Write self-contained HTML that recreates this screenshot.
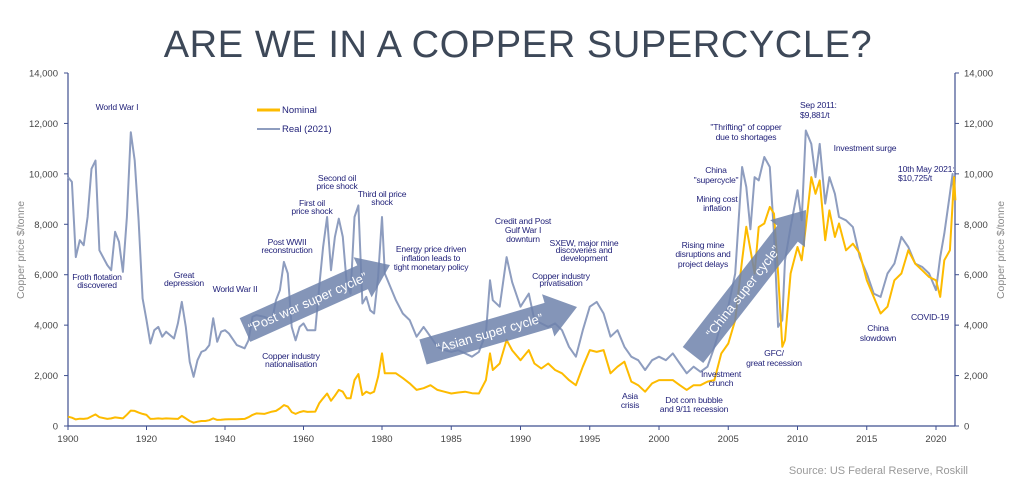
<!DOCTYPE html>
<html><head><meta charset="utf-8"><style>
body{margin:0;background:#fff;}
svg{display:block;font-family:"Liberation Sans",sans-serif;}
.ann{fill:#23237a;font-size:8.6px;text-anchor:middle;letter-spacing:-0.2px;}
.tick{fill:#444;font-size:9.5px;}
</style></head><body>
<svg id="chart" width="1024" height="491" viewBox="0 0 1024 491">
<text x="518" y="57" text-anchor="middle" font-size="38" fill="#3d4858" letter-spacing="0.6">ARE WE IN A COPPER SUPERCYCLE?</text>
<g id="axes"></g>
<g id="series"></g>
<g id="arrows"></g>
<g id="annotations">
<text class="ann" x="117" y="110">World War I</text>
<text class="ann"><tspan x="97" y="280">Froth flotation</tspan><tspan x="97" y="288">discovered</tspan></text>
<text class="ann"><tspan x="184" y="278">Great</tspan><tspan x="184" y="286">depression</tspan></text>
<text class="ann" x="235" y="292">World War II</text>
<text class="ann"><tspan x="287" y="245">Post WWII</tspan><tspan x="287" y="253">reconstruction</tspan></text>
<text class="ann"><tspan x="312" y="206">First  oil</tspan><tspan x="312" y="214">price shock</tspan></text>
<text class="ann"><tspan x="337" y="181">Second oil</tspan><tspan x="337" y="189">price shock</tspan></text>
<text class="ann"><tspan x="382" y="197">Third oil price</tspan><tspan x="382" y="205">shock</tspan></text>
<text class="ann"><tspan x="431" y="252">Energy price driven</tspan><tspan x="431" y="261">inflation leads to</tspan><tspan x="431" y="270">tight monetary policy</tspan></text>
<text class="ann"><tspan x="291" y="359">Copper industry</tspan><tspan x="291" y="367">nationalisation</tspan></text>
<text class="ann"><tspan x="523" y="224">Credit and Post</tspan><tspan x="523" y="233">Gulf War I</tspan><tspan x="523" y="242">downturn</tspan></text>
<text class="ann"><tspan x="584" y="246">SXEW, major mine</tspan><tspan x="584" y="253">discoveries and</tspan><tspan x="584" y="261">development</tspan></text>
<text class="ann"><tspan x="561" y="279">Copper industry</tspan><tspan x="561" y="286">privatisation</tspan></text>
<text class="ann"><tspan x="630" y="399">Asia</tspan><tspan x="630" y="408">crisis</tspan></text>
<text class="ann"><tspan x="694" y="403">Dot com bubble</tspan><tspan x="694" y="412">and 9/11 recession</tspan></text>
<text class="ann"><tspan x="721" y="377">Investment</tspan><tspan x="721" y="386">crunch</tspan></text>
<text class="ann"><tspan x="774" y="356">GFC/</tspan><tspan x="774" y="366">great recession</tspan></text>
<text class="ann"><tspan x="703" y="248">Rising mine</tspan><tspan x="703" y="257">disruptions and</tspan><tspan x="703" y="267">project delays</tspan></text>
<text class="ann"><tspan x="717" y="202">Mining cost</tspan><tspan x="717" y="211">inflation</tspan></text>
<text class="ann"><tspan x="716" y="173">China</tspan><tspan x="716" y="183">"supercycle"</tspan></text>
<text class="ann"><tspan x="746" y="130">"Thrifting" of copper</tspan><tspan x="746" y="140">due to shortages</tspan></text>
<text class="ann" style="text-anchor:start"><tspan x="800" y="108">Sep 2011:</tspan><tspan x="800" y="118">$9,881/t</tspan></text>
<text class="ann" x="865" y="151">Investment surge</text>
<text class="ann" style="text-anchor:start"><tspan x="898" y="172">10th May 2021:</tspan><tspan x="898" y="181">$10,725/t</tspan></text>
<text class="ann"><tspan x="878" y="331">China</tspan><tspan x="878" y="341">slowdown</tspan></text>
<text class="ann" x="930" y="320">COVID-19</text>
</g>
<g>
<line x1="257" y1="110" x2="280" y2="110" stroke="#fdbb00" stroke-width="3"/>
<text x="282" y="113" font-size="9.5" fill="#23237a">Nominal</text>
<line x1="257" y1="129" x2="280" y2="129" stroke="#8e9dbf" stroke-width="2"/>
<text x="282" y="132" font-size="9.5" fill="#23237a">Real (2021)</text>
</g>
<text x="968" y="474" text-anchor="end" font-size="11" fill="#9a9a9a">Source: US Federal Reserve, Roskill</text>
</svg>
<script>
const years=[1900,1901,1902,1903,1904,1905,1906,1907,1908,1910,1911,1912,1913,1914,1915,1916,1917,1918,1919,1920,1921,1922,1923,1924,1925,1927,1928,1929,1930,1931,1932,1933,1934,1935,1936,1937,1938,1939,1940,1941,1943,1945,1946,1947,1948,1950,1952,1953,1954,1955,1956,1957,1958,1959,1960,1961,1963,1964,1965,1966,1967,1968,1969,1970,1971,1972,1973,1974,1975,1976,1977,1978,1979,1980,1980.2,1981,1981.5,1982,1982.5,1983,1983.5,1984,1984.5,1985,1985.5,1986,1986.5,1987,1987.5,1987.8,1988,1988.5,1989,1989.4,1990,1990.6,1991,1991.5,1992,1992.5,1993,1993.5,1994,1994.5,1995,1995.5,1996,1996.5,1997,1997.5,1998,1998.5,1999,1999.5,2000,2000.5,2001,2001.5,2002,2002.5,2003,2003.5,2004,2004.5,2005,2005.5,2006,2006.3,2006.6,2006.9,2007.2,2007.6,2008,2008.3,2008.6,2008.9,2009.1,2009.5,2010,2010.3,2010.6,2011,2011.3,2011.6,2012,2012.3,2012.7,2013,2013.5,2014,2014.5,2015,2015.5,2016,2016.5,2017,2017.5,2018,2018.5,2019,2019.5,2020,2020.3,2020.6,2021,2021.2,2021.3,2021.4];
const realValues=[9870,9680,6700,7370,7170,8290,10200,10530,6970,6380,6180,7700,7300,6110,8290,11650,10530,8160,5060,4200,3270,3800,3930,3540,3740,3470,4070,4920,3930,2550,1950,2610,2940,3010,3210,4270,3340,3740,3800,3670,3210,3080,3400,4330,4400,4330,4200,4990,5390,6510,6050,3930,3400,3930,4070,3800,3800,5520,7100,8290,6180,7500,8220,7500,5650,5250,8290,8750,4860,5120,4590,4460,5910,8290,6050,4990,4460,4200,3540,3930,3540,3140,3010,2940,3010,2880,2750,2940,3670,5780,4990,4730,6700,5700,4730,5250,4200,4070,3930,4070,3800,3140,2750,3800,4730,4920,4460,3540,3800,3140,2750,2610,2220,2610,2750,2610,2880,2480,2090,2350,2150,2350,3140,4070,4730,6050,10270,9480,7800,9870,9740,10670,10270,7630,3930,4200,6570,7890,9350,8160,11720,11190,9870,11190,8820,9870,9210,8290,8160,7890,6700,6050,5250,5120,6050,6440,7500,7100,6440,6310,6050,5390,6700,7630,9210,10000,8950];
const nominalValues=[370,330,260,290,280,300,380,460,350,280,300,340,320,300,450,610,600,530,480,440,280,290,300,290,300,290,280,400,300,200,130,170,200,200,230,300,240,250,260,270,270,280,350,440,500,480,570,600,700,830,770,550,480,550,590,560,570,900,1100,1290,1000,1200,1430,1360,1100,1100,1820,2060,1230,1360,1290,1360,1950,2880,2090,2090,1900,1690,1430,1500,1620,1430,1360,1290,1330,1360,1300,1290,1820,2880,2220,2480,3410,3000,2610,3010,2480,2280,2480,2220,2090,1820,1620,2350,3010,2940,3010,2090,2350,2550,1760,1620,1360,1690,1820,1820,1820,1620,1430,1620,1620,1760,1820,2880,3270,4200,6570,7900,7000,6050,7890,8030,8690,8420,6050,3140,3410,6050,7100,6570,7890,9870,9210,9740,7370,8550,7500,8030,6970,7230,6840,5780,5120,4460,4730,5780,6050,6970,6440,6180,5910,5780,5120,6570,6970,8820,9870,8950];
const yTicks=[0,2000,4000,6000,8000,10000,12000,14000];
const xTicks=[1900,1920,1940,1960,1980,1985,1990,1995,2000,2005,2010,2015,2020];
const NS="http://www.w3.org/2000/svg";
function xs(yr){return yr<=1980?68+(yr-1900)*3.925:382+(yr-1980)*13.85;}
function ys(v){return 426-v*353/14000;}
function mk(tag,attrs,parent){const e=document.createElementNS(NS,tag);for(const k in attrs)e.setAttribute(k,attrs[k]);parent.appendChild(e);return e;}
const axes=document.getElementById('axes');
const ac="#3f4f8f";
let l=mk('line',{x1:68,y1:73,x2:68,y2:426,stroke:ac,'stroke-width':1.2},axes);


l=mk('line',{x1:955,y1:73,x2:955,y2:426,stroke:ac,'stroke-width':1.2},axes);


l=mk('line',{x1:68,y1:426,x2:955,y2:426,stroke:ac,'stroke-width':1.2},axes);


yTicks.forEach(v=>{const y=ys(v);
 mk('line',{x1:64,y1:y,x2:68,y2:y,stroke:ac},axes);
 mk('line',{x1:955,y1:y,x2:959,y2:y,stroke:ac},axes);
 let t=mk('text',{x:58,y:y+3.5,'text-anchor':'end',class:'tick'},axes);t.textContent=v.toLocaleString('en-US');
 
 
 t=mk('text',{x:964,y:y+3.5,class:'tick'},axes);t.textContent=v.toLocaleString('en-US');
 
 
});
xTicks.forEach(yr=>{const x=xs(yr);
 mk('line',{x1:x,y1:426,x2:x,y2:430,stroke:ac},axes);
 const t=mk('text',{x:x,y:442,'text-anchor':'middle',class:'tick'},axes);t.textContent=yr;
 
 
});
let at=mk('text',{transform:'translate(24,250) rotate(-90)','text-anchor':'middle','font-size':10.5,fill:'#8a8a8a'},axes);at.textContent='Copper price $/tonne';


at=mk('text',{transform:'translate(1004,250) rotate(-90)','text-anchor':'middle','font-size':10.5,fill:'#8a8a8a'},axes);at.textContent='Copper price $/tonne';


const series=document.getElementById('series');
function path(vals){return vals.map((v,i)=>(i?'L':'M')+xs(years[i]).toFixed(1)+','+ys(v).toFixed(1)).join('');}
let p=mk('path',{d:path(realValues),fill:'none',stroke:'#8e9dbf','stroke-width':2,'stroke-linejoin':'round'},series);


p=mk('path',{d:path(nominalValues),fill:'none',stroke:'#fdbb00','stroke-width':2,'stroke-linejoin':'round'},series);


const arrows=document.getElementById('arrows');
function arrow(x1,y1,x2,y2,label,name){
 const L=Math.hypot(x2-x1,y2-y1),a=Math.atan2(y2-y1,x2-x1)*180/Math.PI,h=30;
 const g=mk('g',{transform:`translate(${x1},${y1}) rotate(${a})`},arrows);
 
 
 mk('polygon',{points:`0,-13 ${L-h},-13 ${L-h},-22 ${L},0 ${L-h},22 ${L-h},13 0,13`,fill:'#6f82ab','fill-opacity':0.85},g);
 const t=mk('text',{x:(L-h)/2+4,y:5,'text-anchor':'middle','font-size':13,fill:'#fff'},g);t.textContent=label;
}
arrow(245,330,390,265,'\u201cPost war super cycle\u201d','post-war-arrow');
arrow(423,352,577,307,'\u201cAsian super cycle\u201d','asian-arrow');
arrow(693,355,806,210,'\u201cChina super cycle\u201d','china-arrow');
</script>
</body></html>
